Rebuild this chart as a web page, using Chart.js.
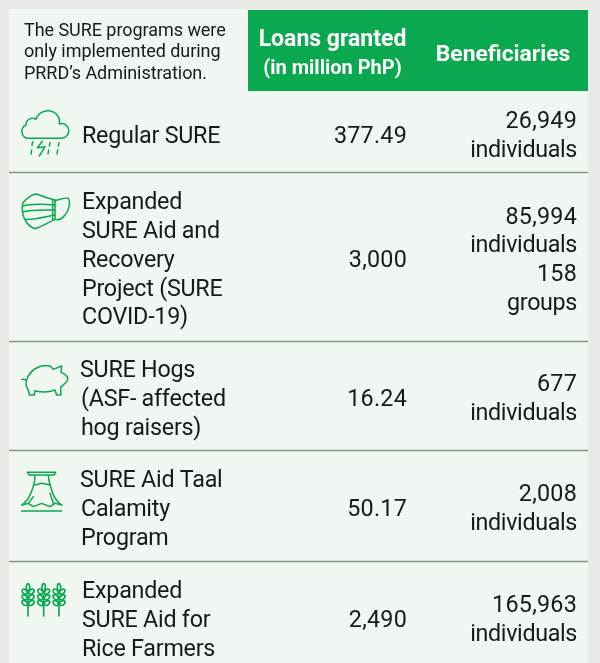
<!DOCTYPE html>
<html>
<head>
<meta charset="utf-8">
<style>
  html, body { margin: 0; padding: 0; background: #e9e9e6; }
  canvas { display: block; }
</style>
</head>
<body>
<canvas id="sure-table" width="600" height="663"></canvas>
<script src="https://cdn.jsdelivr.net/npm/chart.js@4/dist/chart.umd.min.js"></script>
<script>
// table content
const noteLines = ['The SURE programs were', 'only implemented during', 'PRRD\u2019s Administration.'];
const loansHeader = ['Loans granted', '(in million PhP)'];
const beneficiariesHeader = 'Beneficiaries';
const programs = [
    ['Regular SURE'],
    ['Expanded', 'SURE Aid and', 'Recovery', 'Project (SURE', 'COVID-19)'],
    ['SURE Hogs', '(ASF- affected', 'hog raisers)'],
    ['SURE Aid Taal', 'Calamity', 'Program'],
    ['Expanded', 'SURE Aid for', 'Rice Farmers']
];
const loansGranted = ['377.49', '3,000', '16.24', '50.17', '2,490'];
const beneficiaries = [
    ['26,949', 'individuals'],
    ['85,994', 'individuals', '158', 'groups'],
    ['677', 'individuals'],
    ['2,008', 'individuals'],
    ['165,963', 'individuals']
];

// layout, in page pixels (the hidden axes run 0-600 and 0-663)
const rowRules = [172, 341, 450, 561];
const rowCentres = [137, 261, 400, 510, 621];
const programX = [82, 82, 81, 81, 82];
const firstLineNudge = [0, 0, -1, -1, 0];
const LOANS_RIGHT = 407;
const BENEF_RIGHT = 577;
const LINE_H = 28.8;

const GREEN = '#0aa84f';
const RULE = '#7c967f';
const INK = '#161a18';
const FONT = 'Roboto, "Noto Sans", sans-serif';

function cloudIcon(ctx) {
    ctx.stroke(new Path2D('M85 415H185C200 413 208 400 206 388C204 375 192 368 178 372C182 350 165 332 143 332C125 332 112 345 108 358C95 350 78 358 78 375C68 378 64 390 66 398C68 408 75 415 85 415Z'));
    ctx.stroke(new Path2D('M98 425L96 436M95 450L93 462M150 428L148 438M146 450L144 462M177 428L175 438M173 450L171 462'));
    ctx.stroke(new Path2D('M127 424L112 443L135 440L118 468'));
}

function maskIcon(ctx) {
    ctx.translate(0, 510);
    ctx.stroke(new Path2D('M68 100C80 85 95 72 110 72C125 78 145 85 165 90L165 148C140 160 120 172 105 176C85 170 72 150 68 130C66 120 66 110 68 100Z'));
    ctx.stroke(new Path2D('M68 108C95 100 130 102 165 105M70 125C100 118 130 120 165 120M78 148C105 150 135 140 165 135M158 90L158 150'));
    ctx.stroke(new Path2D('M165 92C180 88 195 82 205 85C212 95 208 120 195 135C185 148 172 150 165 148'));
}

function pigIcon(ctx) {
    ctx.translate(0, 1020);
    ctx.stroke(new Path2D('M80 120C88 92 120 70 150 78L160 88L185 78L183 97C195 102 205 110 203 120C198 130 190 135 182 142L183 165L170 165L165 150C145 158 125 158 105 152L103 165L88 165L85 150C78 140 77 128 80 120ZM80 120L65 118'));
}

function volcanoIcon(ctx) {
    ctx.translate(0, 1020);
    ctx.stroke(new Path2D('M82 397H167L162 405H88Z'));
    ctx.stroke(new Path2D('M105 408C105 425 102 432 98 445C92 465 80 485 66 495M145 408C146 425 150 435 155 450C160 470 170 485 185 495'));
    ctx.stroke(new Path2D('M66 495L85 490L100 500L125 490L150 500L165 490L185 495M105 435L125 430L150 435M100 470L85 490M150 460L160 490M65 513H185'));
}

function riceIcon(ctx) {
    ctx.translate(0, 1500);
    ctx.lineWidth = 5;
    [84, 131, 177].forEach(cx => {
        ctx.stroke(new Path2D(`M${cx} 285V348`));
        ctx.beginPath();
        ctx.ellipse(cx, 262, 5, 11, 0, 0, Math.PI * 2);
        [275, 292, 309].forEach(y => {
            ctx.moveTo(cx - 2, y);
            ctx.ellipse(cx - 10, y, 9, 6, 0.7, 0, Math.PI * 2);
            ctx.moveTo(cx + 18, y);
            ctx.ellipse(cx + 10, y, 9, 6, -0.7, 0, Math.PI * 2);
        });
        ctx.stroke();
    });
}

const icons = [cloudIcon, maskIcon, pigIcon, volcanoIcon, riceIcon];

const tableLayer = {
    id: 'tableLayer',
    beforeDatasetsDraw(chart) {
        const { ctx, scales: { x, y } } = chart;
        ctx.save();
        // panel and header band
        ctx.fillStyle = '#f0f7f1';
        ctx.fillRect(x.getPixelForValue(9), y.getPixelForValue(9), x.getPixelForValue(579), y.getPixelForValue(654));
        ctx.fillStyle = GREEN;
        ctx.fillRect(x.getPixelForValue(248), y.getPixelForValue(10), x.getPixelForValue(340), y.getPixelForValue(81));
        // row rules
        ctx.strokeStyle = RULE;
        ctx.lineWidth = 1.4;
        rowRules.forEach(r => {
            ctx.beginPath();
            ctx.moveTo(x.getPixelForValue(9), y.getPixelForValue(r) + 0.5);
            ctx.lineTo(x.getPixelForValue(588), y.getPixelForValue(r) + 0.5);
            ctx.stroke();
        });
        // icons are drawn in 3x units
        icons.forEach(draw => {
            ctx.save();
            ctx.scale(1 / 3, 1 / 3);
            ctx.strokeStyle = GREEN;
            ctx.lineWidth = 4.5;
            ctx.lineJoin = 'round';
            ctx.lineCap = 'round';
            draw(ctx);
            ctx.restore();
        });
        ctx.restore();
    },
    afterDatasetsDraw(chart) {
        const { ctx } = chart;
        ctx.save();
        ctx.textBaseline = 'middle';

        // header cell text
        ctx.fillStyle = INK;
        ctx.textAlign = 'left';
        ctx.font = `18px ${FONT}`;
        ctx.letterSpacing = '-0.05px';
        noteLines.forEach((line, i) => ctx.fillText(line, 24, 31 + i * 21.5));

        ctx.fillStyle = '#ffffff';
        ctx.textAlign = 'center';
        ctx.letterSpacing = '0px';
        ctx.font = `bold 23px ${FONT}`;
        ctx.fillText(loansHeader[0], 332.5, 40);
        ctx.font = `bold 20px ${FONT}`;
        ctx.fillText(loansHeader[1], 332.5, 69);
        ctx.font = `bold 22.8px ${FONT}`;
        ctx.fillText(beneficiariesHeader, 503, 55);

        // body cells anchored on the dataset points
        const [labelMeta, loanMeta, benefMeta] = [0, 1, 2].map(i => chart.getDatasetMeta(i).data);
        ctx.fillStyle = INK;
        ctx.font = `23.3px ${FONT}`;
        programs.forEach((lines, i) => {
            ctx.textAlign = 'left';
            ctx.letterSpacing = '-0.25px';
            const pt = labelMeta[i];
            lines.forEach((line, j) => {
                const nudge = j === 0 ? firstLineNudge[i] : 0;
                ctx.fillText(line, pt.x + nudge, pt.y + (j - (lines.length - 1) / 2) * LINE_H);
            });
            ctx.textAlign = 'right';
            // numbers run a little wider than words in the original face
            ctx.letterSpacing = '0.25px';
            ctx.fillText(loansGranted[i], loanMeta[i].x, loanMeta[i].y);
            const bp = benefMeta[i];
            beneficiaries[i].forEach((line, j) => {
                ctx.letterSpacing = /^\d/.test(line) ? '0.25px' : '-0.35px';
                ctx.fillText(line, bp.x, bp.y + (j - (beneficiaries[i].length - 1) / 2) * LINE_H);
            });
        });
        ctx.restore();
    }
};

new Chart(document.getElementById('sure-table'), {
    type: 'scatter',
    data: {
        datasets: [
            { label: 'Program', data: programs.map((p, i) => ({ x: programX[i], y: rowCentres[i] })), pointRadius: 0 },
            { label: 'Loans granted', data: loansGranted.map((v, i) => ({ x: LOANS_RIGHT, y: rowCentres[i] })), pointRadius: 0 },
            { label: 'Beneficiaries', data: beneficiaries.map((b, i) => ({ x: BENEF_RIGHT, y: rowCentres[i] })), pointRadius: 0 }
        ]
    },
    options: {
        responsive: false,
        animation: false,
        layout: { padding: 0 },
        plugins: { legend: { display: false }, tooltip: { enabled: false } },
        scales: {
            x: { type: 'linear', min: 0, max: 600, display: false },
            y: { type: 'linear', min: 0, max: 663, reverse: true, display: false }
        }
    },
    plugins: [tableLayer]
});
</script>
</body>
</html>
